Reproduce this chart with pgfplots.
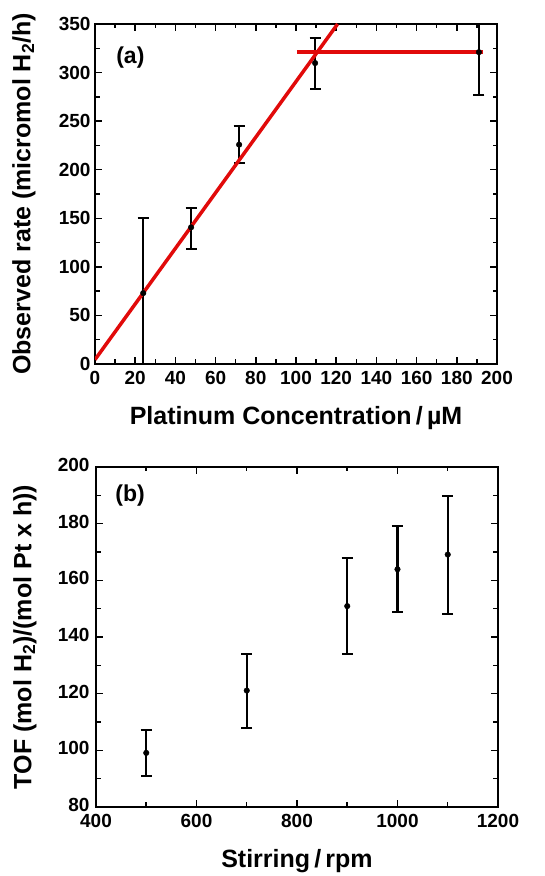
\documentclass[border=0pt]{standalone}
\usepackage{pgfplots}
\pgfplotsset{compat=1.18}
\usepackage{fontspec}
\setmainfont{Liberation Sans}
\definecolor{fitred}{RGB}{225,10,10}
\begin{document}
\begin{tikzpicture}
\useasboundingbox (0,0) rectangle (544pt,876pt);
\pgfplotsset{every axis/.append style={
  scale only axis, width=402pt, height=340pt,
  axis line style={line width=1.8pt},
  every tick/.style={black, line width=1.5pt},
  tick align=inside, major tick length=7pt, minor tick length=4.5pt,
  /pgf/number format/assume math mode=true,
  /pgf/number format/1000 sep={},
  tick label style={font=\fontsize{19}{22}\selectfont\bfseries},
  label style={font=\fontsize{25}{28}\selectfont\bfseries},
  minor x tick num=1, minor y tick num=1,
  xlabel style={at={(axis description cs:0.5,-0.16)}, anchor=center},
  ylabel style={at={(axis description cs:-0.177,0.5)}, anchor=center},
  xticklabel style={yshift=-4pt},
  yticklabel style={xshift=-1pt},
}}
% ---------- (a) ----------
\begin{axis}[at={(95pt,512pt)}, anchor=south west,
  xmin=0, xmax=200, ymin=0, ymax=350,
  xtick={0,20,...,200}, ytick={0,50,...,350},
  xlabel={Platinum Concentration\,/\,\textmu M},
  ylabel={Observed rate (micromol H$_{\mathbf 2}$/h)},
]
\addplot[black, only marks, mark=*, mark size=2.8pt,
  error bars/.cd, y dir=both, y explicit,
  error bar style={line width=2.2pt},
  error mark options={black, mark size=5.5pt, line width=2pt, rotate=90}]
  coordinates {
  (24,73) += (0,77.3) -= (0,73)
  (47.8,140.7) += (0,19.9) -= (0,22.3)
  (71.7,225.8) += (0,18.8) -= (0,18.8)
  (109.5,309.8) += (0,26.2) -= (0,26.8)
  (191,321) += (0,28.5) -= (0,44.4)
  };
\addplot[fitred, line width=3.5pt] coordinates {(0,4.5) (120.7,350)};
\addplot[fitred, line width=3.5pt] coordinates {(100.4,321) (193,321)};
\node[font=\fontsize{23}{26}\selectfont\bfseries] at (axis description cs:0.088,0.9) {(a)};
\end{axis}
% ---------- (b) ----------
\begin{axis}[at={(96pt,69pt)}, anchor=south west,
  xmin=400, xmax=1200, ymin=80, ymax=200,
  xtick={400,600,...,1200}, ytick={80,100,...,200},
  xlabel={Stirring\,/\,rpm},
  ylabel={TOF (mol H$_{\mathbf 2}$)/(mol Pt x h))},
  yticklabel style={xshift=-2pt, yshift=2pt},
]
\addplot[black, only marks, mark=*, mark size=2.8pt,
  error bars/.cd, y dir=both, y explicit,
  error bar style={line width=2.2pt},
  error mark options={black, mark size=5.5pt, line width=2pt, rotate=90}]
  coordinates {
  (500,99.1) += (0,8.0) -= (0,8.2)
  (700,121.1) += (0,13.0) -= (0,13.1)
  (900,150.9) += (0,17.1) -= (0,16.8)
  (1000,163.9) += (0,15.2) -= (0,15.1)
  (1100,169.1) += (0,20.8) -= (0,20.9)
  };
\node[font=\fontsize{23}{26}\selectfont\bfseries] at (axis description cs:0.085,0.915) {(b)};
\end{axis}
\end{tikzpicture}
\end{document}
